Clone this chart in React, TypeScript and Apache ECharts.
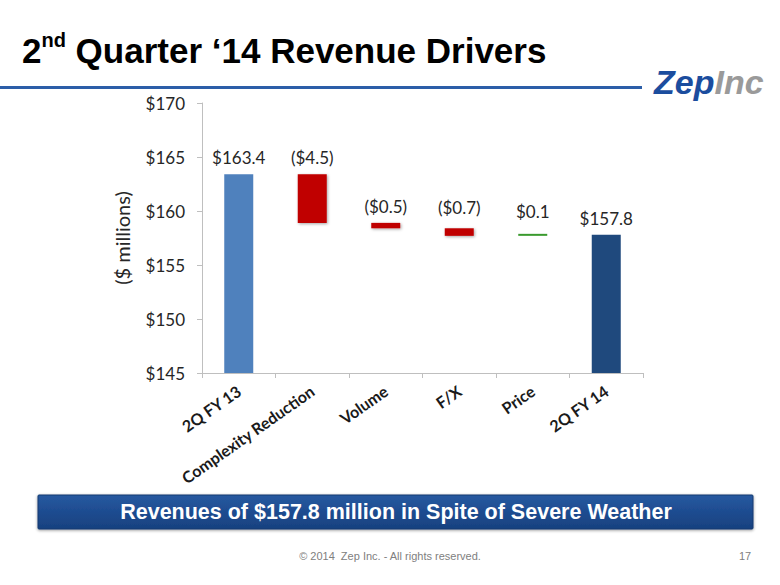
import React, { useEffect, useRef } from "react";
import * as echarts from "echarts";

const categories = ["2Q FY 13", "Complexity Reduction", "Volume", "F/X", "Price", "2Q FY 14"];
const values = [163.4, -4.5, -0.5, -0.7, 0.1, 157.8];
const isTotal = [true, false, false, false, false, true];
const valueLabels = ["$163.4", "($4.5)", "($0.5)", "($0.7)", "$0.1", "$157.8"];
const yTicks = { min: 145, max: 170, interval: 5 };

// styling only
const labelDistance = [8, 8, 8, 12, 14, 8];

const COLOR_START = "#4F81BD";
const COLOR_END = "#1F497D";
const COLOR_NEG = "#C00000";
const COLOR_POS = "#3A9A2E";

function buildWaterfall() {
  const base: number[] = [];
  const delta: any[] = [];
  let running = 0;
  values.forEach((v, i) => {
    const label = { distance: labelDistance[i] };
    if (isTotal[i]) {
      base.push(0);
      running = v;
      delta.push({ value: v, label, itemStyle: { color: i === 0 ? COLOR_START : COLOR_END } });
    } else if (v < 0) {
      base.push(+(running + v).toFixed(2));
      delta.push({
        value: -v,
        label,
        itemStyle: {
          color: COLOR_NEG,
          shadowBlur: 3,
          shadowColor: "rgba(0,0,0,0.35)",
          shadowOffsetY: 1,
          shadowOffsetX: 1,
        },
      });
      running = +(running + v).toFixed(2);
    } else {
      base.push(running);
      delta.push({ value: v, label, itemStyle: { color: COLOR_POS } });
      running = +(running + v).toFixed(2);
    }
  });
  return { base, delta };
}

export default function App() {
  const ref = useRef<HTMLDivElement>(null);
  useEffect(() => {
    if (!ref.current) return;
    const chart = echarts.init(ref.current, undefined, { renderer: "svg" });
    const { base, delta } = buildWaterfall();
    const labelFont = "Lato, 'Open Sans', sans-serif";
    const arial = "'Liberation Sans', Arial, sans-serif";
    const option: any = {
      animation: false,
      backgroundColor: "#ffffff",
      grid: { left: 202, right: 137, top: 103, bottom: 212, containLabel: false },
      xAxis: {
        type: "category",
        data: categories,
        axisLine: { show: true, lineStyle: { color: "#BFBFBF", width: 1 } },
        axisTick: { show: true, length: 5, lineStyle: { color: "#BFBFBF" } },
        axisLabel: {
          interval: 0,
          rotate: 35,
          margin: 16,
          fontFamily: labelFont,
          fontWeight: "bold",
          fontSize: 16,
          color: "#1a1a1a",
        },
      },
      yAxis: {
        type: "value",
        min: yTicks.min,
        max: yTicks.max,
        interval: yTicks.interval,
        name: "($ millions)",
        nameLocation: "middle",
        nameGap: 70,
        nameTextStyle: { fontFamily: labelFont, fontSize: 20, color: "#262626" },
        axisLine: { show: true, lineStyle: { color: "#BFBFBF", width: 1 } },
        axisTick: { show: true, length: 5, lineStyle: { color: "#BFBFBF" } },
        splitLine: { show: false },
        axisLabel: {
          margin: 17,
          fontFamily: labelFont,
          fontSize: 17,
          color: "#262626",
          formatter: (v: number) => "$" + v,
        },
      },
      series: [
        {
          type: "bar",
          stack: "wf",
          data: base,
          barWidth: 29,
          itemStyle: { color: "transparent" },
          emphasis: { disabled: true },
          silent: true,
        },
        {
          type: "bar",
          stack: "wf",
          data: delta,
          barWidth: 29,
          barMinHeight: 2,
          label: {
            show: true,
            position: "top",
            distance: 8,
            fontFamily: labelFont,
            fontSize: 17,
            color: "#262626",
            formatter: (p: any) => valueLabels[p.dataIndex],
          },
        },
      ],
      graphic: [
        {
          type: "text",
          left: 22,
          top: 30,
          style: {
            text: "{a|2}{s|nd}{a| Quarter \u201814 Revenue Drivers}",
            rich: {
              a: { fontFamily: arial, fontWeight: "bold", fontSize: 35, lineHeight: 41, fill: "#000" },
              s: { fontFamily: arial, fontWeight: "bold", fontSize: 20, lineHeight: 24, verticalAlign: "top", fill: "#000" },
            },
          },
        },
        {
          type: "rect",
          shape: { x: 0, y: 86, width: 642, height: 3 },
          style: { fill: "#2C5EA8" },
        },
        {
          type: "text",
          x: 654,
          y: 82,
          style: {
            text: "{z|Zep}{i|Inc}",
            verticalAlign: "middle",
            rich: {
              z: { fontFamily: arial, fontWeight: "bold", fontStyle: "italic", fontSize: 34, fill: "#1B4D9E" },
              i: { fontFamily: arial, fontWeight: "bold", fontStyle: "italic", fontSize: 34, fill: "#9A9A9A" },
            },
          },
        },
        {
          type: "rect",
          shape: { x: 38, y: 495, width: 715, height: 34, r: 1 },
          style: {
            fill: new echarts.graphic.LinearGradient(0, 0, 0, 1, [
              { offset: 0, color: "#2759A0" },
              { offset: 0.5, color: "#1E4C90" },
              { offset: 1, color: "#18417F" },
            ]),
            stroke: "#163A70",
            lineWidth: 1,
            shadowBlur: 3,
            shadowColor: "rgba(0,0,0,0.4)",
            shadowOffsetY: 1,
          },
        },
        {
          type: "text",
          x: 396,
          y: 512,
          style: {
            text: "Revenues of $157.8 million in Spite of Severe Weather",
            fontFamily: arial,
            fontWeight: "bold",
            fontSize: 21.5,
            fill: "#ffffff",
            align: "center",
            verticalAlign: "middle",
          },
        },
        {
          type: "text",
          x: 390,
          y: 556,
          style: {
            text: "\u00A9 2014  Zep Inc. - All rights reserved.",
            fontFamily: arial,
            fontSize: 11,
            fill: "#808080",
            align: "center",
            verticalAlign: "middle",
          },
        },
        {
          type: "text",
          x: 745,
          y: 556,
          style: {
            text: "17",
            fontFamily: arial,
            fontSize: 11,
            fill: "#808080",
            align: "center",
            verticalAlign: "middle",
          },
        },
      ],
    };
    chart.setOption(option);
    return () => chart.dispose();
  }, []);
  return (
    <div
      ref={ref}
      style={{ position: "fixed", left: 0, top: 0, width: 780, height: 585, background: "#fff" }}
    />
  );
}
